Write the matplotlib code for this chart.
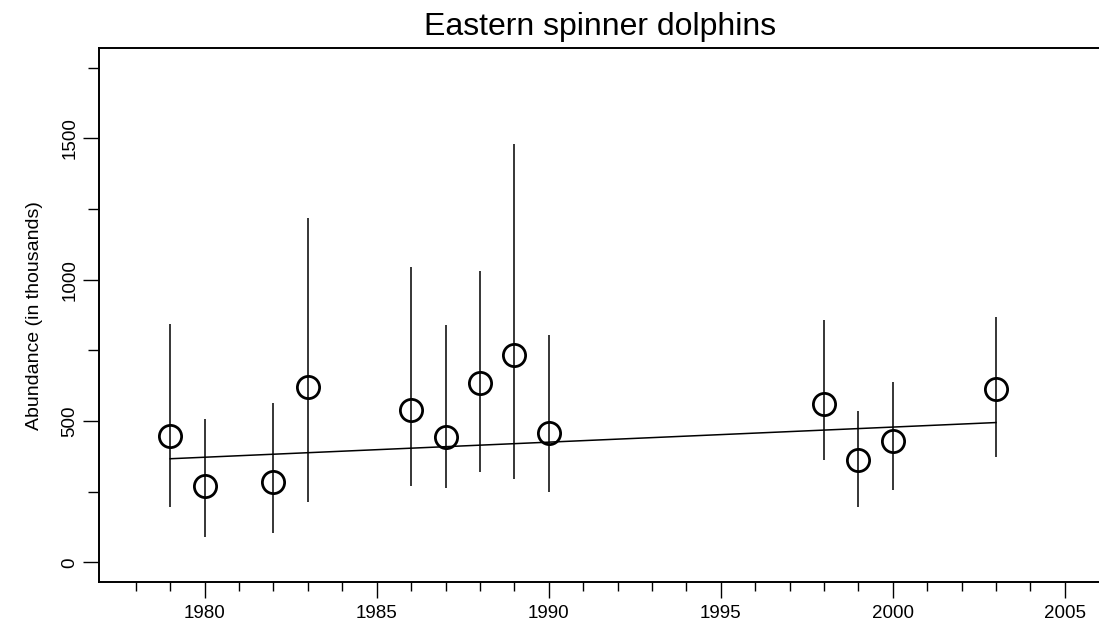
import matplotlib
matplotlib.use("Agg")
import matplotlib.pyplot as plt
from matplotlib.ticker import FixedLocator

plt.rcParams['font.family'] = ['Liberation Sans', 'DejaVu Sans']

years = [1979, 1980, 1982, 1983, 1986, 1987, 1988, 1989, 1990, 1998, 1999, 2000, 2003]
abundance = [449, 272, 285, 620, 538, 445, 636, 735, 459, 559, 362, 428, 615]
lower = [197, 91, 105, 215, 270, 264, 321, 297, 250, 361, 196, 255, 373]
upper = [845, 506, 563, 1220, 1045, 840, 1030, 1479, 803, 856, 535, 640, 870]
trend_years = [1979, 2003]
trend_values = [367, 495]

x_major = [1980, 1985, 1990, 1995, 2000, 2005]
x_minor = [1978, 1979, 1981, 1982, 1983, 1984, 1986, 1987, 1988, 1989, 1991, 1992,
           1993, 1994, 1996, 1997, 1998, 1999, 2001, 2002, 2003, 2004]
y_major = [0, 500, 1000, 1500]
y_minor = [250, 750, 1250, 1750]

title = "Eastern spinner dolphins"
ylabel = "Abundance (in thousands)"

fig = plt.figure(figsize=(10.99, 6.37), dpi=100)
ax = fig.add_axes([0.0898, 0.0859, 0.9129, 0.8388])

ax.vlines(years, lower, upper, colors='black', linewidth=1.1)
ax.plot(trend_years, trend_values, color='black', linewidth=1.1)
ax.plot(years, abundance, linestyle='none', marker='o', markersize=16,
        markerfacecolor='none', markeredgecolor='black', markeredgewidth=2.0)

ax.set_xlim(1976.92, 2006.08)
ax.set_ylim(-70, 1820)

ax.xaxis.set_major_locator(FixedLocator(x_major))
ax.xaxis.set_minor_locator(FixedLocator(x_minor))
ax.yaxis.set_major_locator(FixedLocator(y_major))
ax.yaxis.set_minor_locator(FixedLocator(y_minor))
ax.set_xticklabels([str(v) for v in x_major])
ax.set_yticklabels([str(v) for v in y_major], rotation=90, va='center')

ax.tick_params(axis='both', which='major', length=11.5, width=1.0, labelsize=13.5)
ax.tick_params(axis='x', which='minor', length=6.5, width=1.0)
ax.tick_params(axis='y', which='minor', length=7.8, width=1.0)
ax.tick_params(axis='x', which='major', pad=5)
ax.tick_params(axis='y', which='major', pad=3)

for s in ax.spines.values():
    s.set_linewidth(1.4)

ax.set_title(title, fontsize=23, pad=9)
ax.set_ylabel(ylabel, fontsize=14, labelpad=13)

fig.savefig("out.png", dpi=100)
